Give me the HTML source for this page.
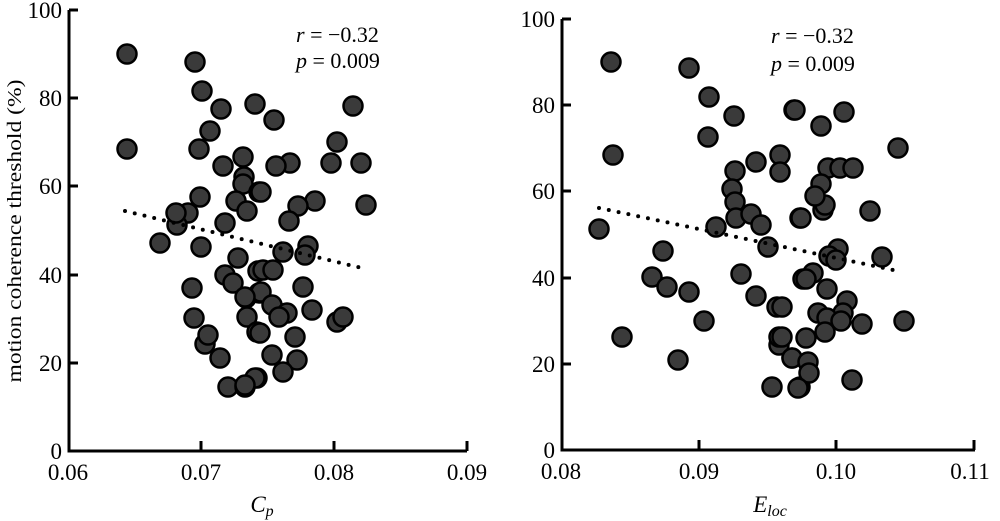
<!DOCTYPE html>
<html><head><meta charset="utf-8"><style>
html,body{margin:0;padding:0;background:#fff;}
svg{display:block;}
text{font-family:"Liberation Serif",serif;fill:#000;}
circle{r:9.5;}
</style></head><body>
<svg width="1000" height="521" viewBox="0 0 1000 521" xmlns="http://www.w3.org/2000/svg">
<g stroke="#000" stroke-width="3" fill="none">
<path d="M69,10 V451 H467"/>
<path d="M69,10 H78 M69,98 H78 M69,186 H78 M69,275 H78 M69,363 H78"/>
<path d="M201,451 V441 M334,451 V441 M467,451 V441"/>
<path d="M562,19 V450 H975"/>
<path d="M562,19 H571 M562,105 H571 M562,191 H571 M562,278 H571 M562,364 H571"/>
<path d="M699,450 V440 M836,450 V440 M974,450 V440"/>
</g>
<g font-size="23" text-anchor="end">
<text x="62" y="18">100</text><text x="62" y="106">80</text><text x="62" y="194">60</text><text x="62" y="283">40</text><text x="62" y="371">20</text><text x="62" y="459">0</text>
<text x="555" y="27">100</text><text x="555" y="113">80</text><text x="555" y="199">60</text><text x="555" y="286">40</text><text x="555" y="372">20</text><text x="555" y="458">0</text>
</g>
<g font-size="23" text-anchor="middle">
<text x="68" y="480">0.06</text><text x="201" y="480">0.07</text><text x="334" y="480">0.08</text><text x="467" y="480">0.09</text>
<text x="561" y="479">0.08</text><text x="699" y="479">0.09</text><text x="836" y="479">0.10</text><text x="970" y="479">0.11</text>
</g>
<text x="262" y="512" font-size="23" font-style="italic" text-anchor="middle">C<tspan font-size="16" dy="4">p</tspan></text>
<text x="770" y="512" font-size="23" font-style="italic" text-anchor="middle">E<tspan font-size="16" dy="4">loc</tspan></text>
<text transform="translate(21,231) rotate(-90)" font-size="20" text-anchor="middle" textLength="303" lengthAdjust="spacingAndGlyphs">motion coherence threshold (%)</text>
<g font-size="22">
<text x="296" y="42"><tspan font-style="italic">r</tspan> = −0.32</text>
<text x="296" y="68"><tspan font-style="italic">p</tspan> = 0.009</text>
<text x="771" y="43"><tspan font-style="italic">r</tspan> = −0.32</text>
<text x="771" y="71"><tspan font-style="italic">p</tspan> = 0.009</text>
</g>
<g fill="#3a3a3a" stroke="#000" stroke-width="2.5">
<circle cx="127" cy="54" r="9.5"/><circle cx="195" cy="62" r="9.5"/><circle cx="202" cy="91" r="9.5"/><circle cx="221" cy="109" r="9.5"/><circle cx="210" cy="131" r="9.5"/><circle cx="255" cy="104" r="9.5"/><circle cx="127" cy="149" r="9.5"/><circle cx="199" cy="149" r="9.5"/><circle cx="223" cy="166" r="9.5"/><circle cx="243" cy="157" r="9.5"/><circle cx="244" cy="177" r="9.5"/><circle cx="243" cy="184" r="9.5"/><circle cx="259" cy="192" r="9.5"/><circle cx="236" cy="201" r="9.5"/><circle cx="247" cy="211" r="9.5"/><circle cx="200" cy="197" r="9.5"/><circle cx="188" cy="213" r="9.5"/><circle cx="177" cy="225" r="9.5"/><circle cx="176" cy="213" r="9.5"/><circle cx="225" cy="223" r="9.5"/><circle cx="160" cy="243" r="9.5"/><circle cx="201" cy="247" r="9.5"/><circle cx="238" cy="258" r="9.5"/><circle cx="225" cy="275" r="9.5"/><circle cx="233" cy="283" r="9.5"/><circle cx="258" cy="271" r="9.5"/><circle cx="246" cy="298" r="9.5"/><circle cx="259" cy="293" r="9.5"/><circle cx="192" cy="288" r="9.5"/><circle cx="247" cy="317" r="9.5"/><circle cx="257" cy="332" r="9.5"/><circle cx="194" cy="318" r="9.5"/><circle cx="205" cy="344" r="9.5"/><circle cx="208" cy="335" r="9.5"/><circle cx="220" cy="358" r="9.5"/><circle cx="228" cy="387" r="9.5"/><circle cx="245" cy="387" r="9.5"/><circle cx="257" cy="378" r="9.5"/>
<circle cx="274" cy="120" r="9.5"/><circle cx="353" cy="106" r="9.5"/><circle cx="337" cy="142" r="9.5"/><circle cx="290" cy="163" r="9.5"/><circle cx="276" cy="166" r="9.5"/><circle cx="331" cy="163" r="9.5"/><circle cx="361" cy="163" r="9.5"/><circle cx="261" cy="192" r="9.5"/><circle cx="315" cy="201" r="9.5"/><circle cx="298" cy="206" r="9.5"/><circle cx="289" cy="221" r="9.5"/><circle cx="366" cy="205" r="9.5"/><circle cx="283" cy="252" r="9.5"/><circle cx="308" cy="246" r="9.5"/><circle cx="305" cy="255" r="9.5"/><circle cx="263" cy="270" r="9.5"/><circle cx="273" cy="270" r="9.5"/><circle cx="303" cy="287" r="9.5"/><circle cx="261" cy="292" r="9.5"/><circle cx="245" cy="297" r="9.5"/><circle cx="272" cy="305" r="9.5"/><circle cx="287" cy="313" r="9.5"/><circle cx="279" cy="317" r="9.5"/><circle cx="312" cy="310" r="9.5"/><circle cx="337" cy="322" r="9.5"/><circle cx="343" cy="317" r="9.5"/><circle cx="260" cy="333" r="9.5"/><circle cx="295" cy="337" r="9.5"/><circle cx="272" cy="355" r="9.5"/><circle cx="297" cy="360" r="9.5"/><circle cx="283" cy="372" r="9.5"/><circle cx="255" cy="378" r="9.5"/><circle cx="245" cy="385" r="9.5"/>
<circle cx="611" cy="62" r="9.5"/><circle cx="689" cy="68" r="9.5"/><circle cx="709" cy="97" r="9.5"/><circle cx="734" cy="116" r="9.5"/><circle cx="708" cy="137" r="9.5"/><circle cx="794" cy="110" r="9.5"/><circle cx="613" cy="155" r="9.5"/><circle cx="780" cy="155" r="9.5"/><circle cx="780" cy="172" r="9.5"/><circle cx="756" cy="162" r="9.5"/><circle cx="735" cy="171" r="9.5"/><circle cx="732" cy="189" r="9.5"/><circle cx="735" cy="202" r="9.5"/><circle cx="736" cy="218" r="9.5"/><circle cx="751" cy="214" r="9.5"/><circle cx="761" cy="225" r="9.5"/><circle cx="800" cy="218" r="9.5"/><circle cx="716" cy="227" r="9.5"/><circle cx="599" cy="229" r="9.5"/><circle cx="768" cy="247" r="9.5"/><circle cx="663" cy="251" r="9.5"/><circle cx="652" cy="277" r="9.5"/><circle cx="667" cy="287" r="9.5"/><circle cx="689" cy="292" r="9.5"/><circle cx="741" cy="274" r="9.5"/><circle cx="756" cy="296" r="9.5"/><circle cx="777" cy="307" r="9.5"/><circle cx="704" cy="321" r="9.5"/><circle cx="622" cy="337" r="9.5"/><circle cx="678" cy="360" r="9.5"/><circle cx="779" cy="345" r="9.5"/><circle cx="779" cy="337" r="9.5"/><circle cx="792" cy="358" r="9.5"/><circle cx="772" cy="387" r="9.5"/><circle cx="800" cy="387" r="9.5"/><circle cx="803" cy="279" r="9.5"/>
<circle cx="795" cy="110" r="9.5"/><circle cx="821" cy="126" r="9.5"/><circle cx="844" cy="112" r="9.5"/><circle cx="898" cy="148" r="9.5"/><circle cx="828" cy="168" r="9.5"/><circle cx="840" cy="168" r="9.5"/><circle cx="853" cy="168" r="9.5"/><circle cx="821" cy="184" r="9.5"/><circle cx="823" cy="210" r="9.5"/><circle cx="825" cy="205" r="9.5"/><circle cx="815" cy="196" r="9.5"/><circle cx="801" cy="218" r="9.5"/><circle cx="870" cy="211" r="9.5"/><circle cx="838" cy="249" r="9.5"/><circle cx="829" cy="256" r="9.5"/><circle cx="836" cy="260" r="9.5"/><circle cx="882" cy="257" r="9.5"/><circle cx="813" cy="273" r="9.5"/><circle cx="806" cy="279" r="9.5"/><circle cx="827" cy="289" r="9.5"/><circle cx="847" cy="301" r="9.5"/><circle cx="843" cy="313" r="9.5"/><circle cx="818" cy="313" r="9.5"/><circle cx="827" cy="318" r="9.5"/><circle cx="841" cy="321" r="9.5"/><circle cx="862" cy="324" r="9.5"/><circle cx="904" cy="321" r="9.5"/><circle cx="782" cy="307" r="9.5"/><circle cx="825" cy="332" r="9.5"/><circle cx="806" cy="338" r="9.5"/><circle cx="782" cy="337" r="9.5"/><circle cx="792" cy="358" r="9.5"/><circle cx="808" cy="362" r="9.5"/><circle cx="809" cy="373" r="9.5"/><circle cx="798" cy="388" r="9.5"/><circle cx="852" cy="380" r="9.5"/>
</g>
<g stroke="#000" stroke-width="4" stroke-linecap="round" stroke-dasharray="0 10">
<path d="M125,211 L366,269"/>
<path d="M599,208 L898,271"/>
</g>
</svg>
</body></html>
